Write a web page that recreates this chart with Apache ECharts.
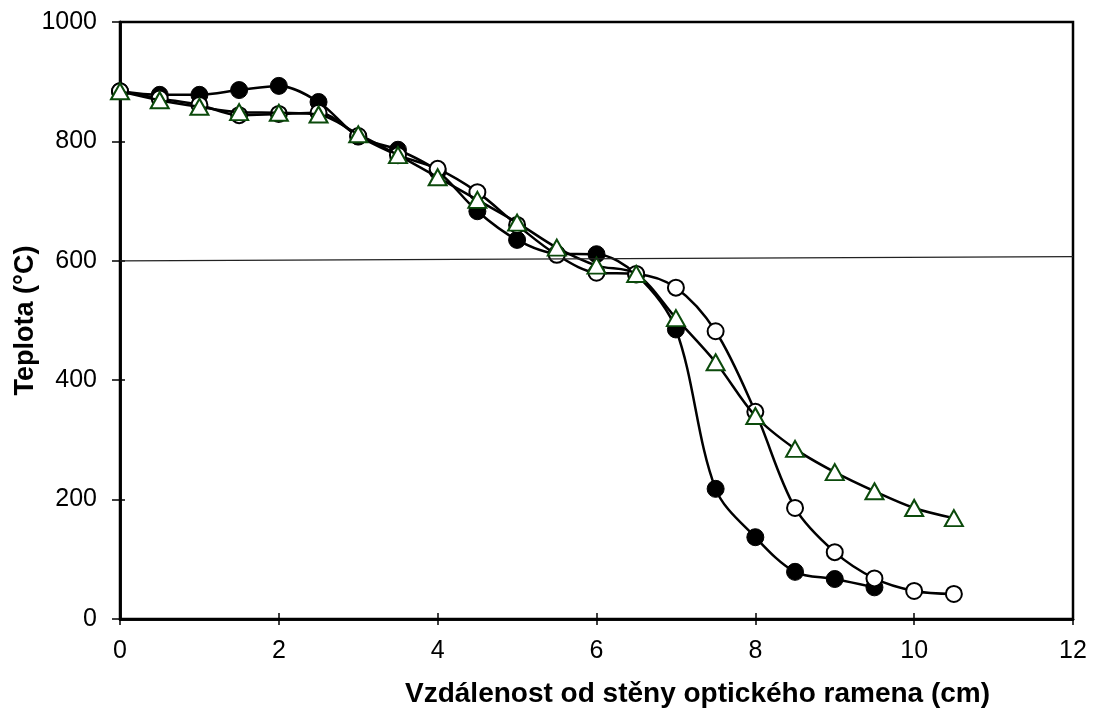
<!DOCTYPE html>
<html>
<head>
<meta charset="utf-8">
<script src="https://cdn.jsdelivr.net/npm/echarts@6/dist/echarts.min.js"></script>
<style>
html,body{margin:0;padding:0;background:#fff;}
#c{width:1094px;height:714px;}
</style>
</head>
<body>
<div id="c"></div>
<script>
var xFilled = [0,0.5,1,1.5,2,2.5,3,3.5,4,4.5,5,5.5,6,6.5,7,7.5,8,8.5,9,9.5];
var yFilled = [884,878,878,886,893,866,808,786,750,683,635,612,611,577,485,218,137,79,67,53];
var xOpen = [0,0.5,1,1.5,2,2.5,3,3.5,4,4.5,5,5.5,6,6.5,7,7.5,8,8.5,9,9.5,10,10.5];
var yOpen = [884,872,861,844,846,848,809,777,754,715,660,610,580,578,555,482,347,186,112,68,47,42];
var xTri = [0,0.5,1,1.5,2,2.5,3,3.5,4,4.5,5,5.5,6,6.5,7,7.5,8,8.5,9,9.5,10,10.5];
var yTri = [884,869,858,849,848,845,812,777,740,702,664,622,592,578,504,430,340,285,246,214,186,169];
var xTicks = [0,2,4,6,8,10,12];
var yTicks = [0,200,400,600,800,1000];
var refLine = [[0,600],[12,607]];

function pairs(xs, ys){ return xs.map(function(x,i){ return [x, ys[i]]; }); }

var font = 'Liberation Sans, Arial, sans-serif';
var chart = echarts.init(document.getElementById('c'));
var baseX = {
  type:'value', min:xTicks[0], max:xTicks[xTicks.length-1], interval:2,
  position:'bottom',
  splitLine:{show:false},
  axisLine:{show:true, onZero:false, lineStyle:{color:'#000', width:2.5}}
};
var baseY = {
  type:'value', min:yTicks[0], max:yTicks[yTicks.length-1], interval:200,
  position:'left',
  splitLine:{show:false},
  axisLine:{show:true, onZero:false, lineStyle:{color:'#000', width:2.5}}
};
chart.setOption({
  animation:false,
  backgroundColor:'#fff',
  grid:{left:120, top:22, right:21, bottom:95, show:true, borderColor:'#000', borderWidth:2.5,
    containLabel:false, outerBoundsMode:'none'},
  xAxis:[
    Object.assign({}, baseX, {
      axisTick:{show:true, inside:false, length:6, lineStyle:{color:'#000', width:1.5}},
      axisLabel:{show:true, color:'#000', fontSize:25, fontFamily:font, margin:20,
        formatter:function(v){ return String(v); }}
    }),
    Object.assign({}, baseX, {
      axisTick:{show:true, inside:true, length:6, lineStyle:{color:'#000', width:1.5}},
      axisLabel:{show:false}
    })
  ],
  yAxis:[
    Object.assign({}, baseY, {
      name:'Teplota (°C)', nameLocation:'middle', nameGap:81, nameMoveOverlap:false,
      nameTextStyle:{color:'#000', fontSize:27, fontWeight:'bold', fontFamily:font},
      axisTick:{show:true, inside:false, length:8, lineStyle:{color:'#000', width:1.5}},
      axisLabel:{show:true, color:'#000', fontSize:25, fontFamily:font, margin:23,
        formatter:function(v){ return String(v); }}
    }),
    Object.assign({}, baseY, {
      axisTick:{show:true, inside:true, length:5, lineStyle:{color:'#000', width:1.5}},
      axisLabel:{show:false}
    })
  ],
  graphic:[{
    type:'text', left:405, top:680,
    style:{text:'Vzdálenost od stěny optického ramena (cm)', fill:'#000',
      font:'bold 28px Liberation Sans, Arial, sans-serif'}
  }],
  series:[
    {
      type:'line', data:pairs(xFilled,yFilled), smooth:0.33,
      symbol:'circle', symbolSize:17,
      lineStyle:{color:'#000', width:2.5},
      itemStyle:{color:'#000', borderColor:'#000', borderWidth:1},
      markLine:{
        silent:true, symbol:['none','none'], label:{show:false},
        lineStyle:{color:'#222', width:1.3, type:'solid'},
        data:[[{coord:refLine[0]},{coord:refLine[1]}]]
      },
      z:2
    },
    {
      type:'line', data:pairs(xOpen,yOpen), smooth:0.33,
      symbol:'circle', symbolSize:16,
      lineStyle:{color:'#000', width:2.5},
      itemStyle:{color:'#fff', borderColor:'#000', borderWidth:2},
      z:3
    },
    {
      type:'line', data:pairs(xTri,yTri), smooth:0.33,
      symbol:'triangle', symbolSize:[18,16],
      lineStyle:{color:'#000', width:2.5},
      itemStyle:{color:'#fff', borderColor:'#0b4a0b', borderWidth:2},
      z:4
    }
  ]
});
</script>
</body>
</html>
